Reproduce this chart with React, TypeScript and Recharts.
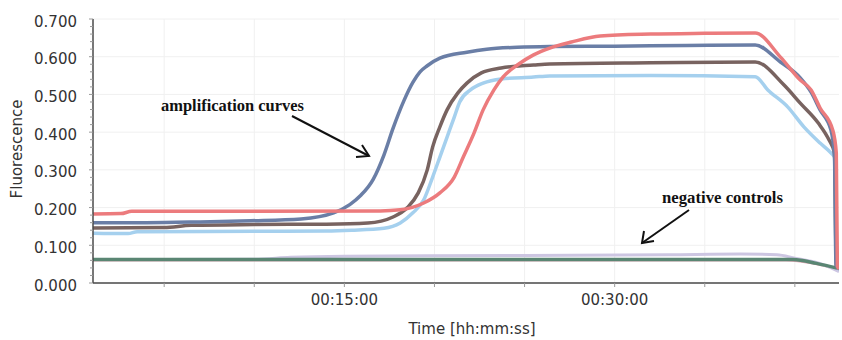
import React from "react";
import { LineChart, Line, XAxis, YAxis, CartesianGrid } from "recharts";

// time in minutes, fluorescence values
const blueT = [1.05, 4, 7, 9.8, 12.6, 14.4, 15.3, 15.9, 16.6, 17.2, 17.7, 18.3, 18.8, 19.2, 19.6, 20.3, 21.8, 22.9, 24.6, 26.4, 30, 34, 37.8, 39.2, 40.3, 40.9, 41.4, 42.0, 42.2, 42.28, 42.45];
const blueV = [0.160, 0.160, 0.162, 0.165, 0.170, 0.186, 0.208, 0.232, 0.275, 0.340, 0.410, 0.483, 0.532, 0.560, 0.576, 0.596, 0.612, 0.620, 0.625, 0.627, 0.628, 0.630, 0.631, 0.586, 0.544, 0.506, 0.459, 0.406, 0.334, 0.048, 0.040];

const redT = [1.05, 2.6, 3.2, 10, 17, 18.1, 19.4, 20.3, 21.1, 21.6, 22.2, 22.7, 23.3, 23.8, 24.6, 25.5, 26.4, 27.6, 29.2, 32, 35, 37.8, 39.2, 40.3, 40.9, 41.4, 42.1, 42.3, 42.36, 42.45];
const redV = [0.183, 0.184, 0.190, 0.190, 0.191, 0.194, 0.212, 0.239, 0.281, 0.334, 0.398, 0.459, 0.512, 0.546, 0.578, 0.605, 0.623, 0.639, 0.655, 0.660, 0.662, 0.663, 0.599, 0.538, 0.512, 0.464, 0.406, 0.345, 0.045, 0.038];

const brownT = [1.05, 5, 6.5, 10, 14, 16.3, 17.7, 18.5, 19.1, 19.6, 19.9, 20.3, 20.7, 21.3, 21.8, 22.6, 23.7, 25.5, 26.4, 32, 37.8, 39.4, 40.3, 41.3, 41.9, 42.2, 42.3, 42.45];
const brownV = [0.146, 0.147, 0.153, 0.155, 0.156, 0.159, 0.175, 0.200, 0.239, 0.300, 0.361, 0.414, 0.459, 0.504, 0.530, 0.557, 0.570, 0.578, 0.581, 0.584, 0.586, 0.525, 0.477, 0.424, 0.379, 0.345, 0.045, 0.038];

const lightT = [1.05, 3, 3.5, 10, 14, 15.4, 17.2, 18.1, 18.8, 19.4, 19.9, 20.3, 20.7, 21.1, 21.4, 22, 22.7, 23.7, 25.5, 26.4, 32, 37.8, 38.5, 39.6, 40.5, 41.4, 42.0, 42.25, 42.32, 42.45];
const lightV = [0.132, 0.131, 0.136, 0.137, 0.138, 0.140, 0.145, 0.159, 0.186, 0.220, 0.281, 0.334, 0.387, 0.440, 0.480, 0.512, 0.530, 0.541, 0.546, 0.549, 0.550, 0.547, 0.512, 0.467, 0.414, 0.371, 0.345, 0.330, 0.045, 0.036];

const greenT = [1.05, 20, 39.9, 41.2, 42.45];
const greenV = [0.062, 0.062, 0.062, 0.052, 0.038];

const lavenderT = [1.05, 10, 12, 15, 25, 33, 37, 39, 40, 41.5, 42.45];
const lavenderV = [0.062, 0.063, 0.068, 0.071, 0.073, 0.075, 0.077, 0.075, 0.066, 0.050, 0.030];

const pinkT = [1.05, 39.5, 41, 42.45];
const pinkV = [0.060, 0.060, 0.052, 0.035];

const xTicks = [5, 10, 15, 20, 25, 30, 35, 40];
const xTickLabels: Record<number, string> = { 15: "00:15:00", 30: "00:30:00" };
const yMajor = [0, 0.1, 0.2, 0.3, 0.4, 0.5, 0.6, 0.7];
const yTicks = [
  0, 0.02, 0.04, 0.06, 0.08, 0.1, 0.12, 0.14, 0.16, 0.18, 0.2, 0.22, 0.24, 0.26, 0.28,
  0.3, 0.32, 0.34, 0.36, 0.38, 0.4, 0.42, 0.44, 0.46, 0.48, 0.5, 0.52, 0.54, 0.56, 0.58,
  0.6, 0.62, 0.64, 0.66, 0.68, 0.7,
];

const toPts = (t: number[], v: number[]) => t.map((x, i) => ({ t: x, v: v[i] }));

const series = [
  { name: "neg-pink", data: toPts(pinkT, pinkV), color: "#e3a6b4", w: 2.5 },
  { name: "neg-lavender", data: toPts(lavenderT, lavenderV), color: "#cdc6e2", w: 3 },
  { name: "neg-green", data: toPts(greenT, greenV), color: "#5a8673", w: 3.5 },
  { name: "light", data: toPts(lightT, lightV), color: "#a5d0ee", w: 3.5 },
  { name: "brown", data: toPts(brownT, brownV), color: "#786360", w: 3.5 },
  { name: "blue", data: toPts(blueT, blueV), color: "#6a7ea6", w: 3.5 },
  { name: "red", data: toPts(redT, redV), color: "#ec7b7d", w: 3.5 },
];

const FONT = "'DejaVu Sans', Verdana, sans-serif";
const SERIF = "'Liberation Serif', 'Times New Roman', serif";

const YTick = (props: any) => {
  const { x, y, payload } = props;
  const val = payload.value as number;
  const isMajor = yMajor.some((m) => Math.abs(m - val) < 1e-6);
  return (
    <g>
      <line x1={x - (isMajor ? 4 : 3)} x2={x} y1={y} y2={y} stroke="#999" strokeWidth={1} />
      {isMajor && (
        <text x={x - 16} y={y + 3} textAnchor="end" dominantBaseline="middle" fontFamily={FONT} fontSize={15} fill="#333">
          {val.toFixed(3)}
        </text>
      )}
    </g>
  );
};

export default function App() {
  return (
    <div style={{ position: "absolute", left: 0, top: 0, width: 842, height: 340, background: "#fff" }}>
      <LineChart width={842} height={340} margin={{ top: 19, right: 3, bottom: 0, left: 0 }}>
        <CartesianGrid stroke="#f0f0f0" strokeWidth={1} horizontalValues={yMajor} verticalValues={xTicks} />
        <XAxis
          type="number"
          dataKey="t"
          domain={[1.05, 42.45]}
          allowDataOverflow
          ticks={xTicks}
          tickFormatter={(v: number) => xTickLabels[v] ?? ""}
          height={57}
          tickSize={4}
          tickMargin={7}
          axisLine={{ stroke: "#4a4a4a", strokeWidth: 1.5 }}
          tickLine={{ stroke: "#999" }}
          tick={{ fontFamily: FONT, fontSize: 15, fill: "#333" }}
        />
        <YAxis
          type="number"
          domain={[0, 0.7]}
          ticks={yTicks}
          interval={0}
          width={93}
          tickSize={0}
          tickMargin={0}
          tickLine={false}
          axisLine={{ stroke: "#4a4a4a", strokeWidth: 1.5 }}
          tick={<YTick />}
        />
        {series.map((s) => (
          <Line
            key={s.name}
            data={s.data}
            dataKey="v"
            type="monotone"
            stroke={s.color}
            strokeWidth={s.w}
            dot={false}
            activeDot={false}
            isAnimationActive={false}
          />
        ))}
      </LineChart>
      <svg width={842} height={340} style={{ position: "absolute", left: 0, top: 0, pointerEvents: "none" }}>
        <text x={17} y={149} transform="rotate(-90 17 149)" textAnchor="middle" dominantBaseline="middle" fontFamily={FONT} fontSize={15} fill="#333">
          Fluorescence
        </text>
        <text x={472} y={329} textAnchor="middle" dominantBaseline="middle" fontFamily={FONT} fontSize={15} fill="#333">
          Time [hh:mm:ss]
        </text>
        <text x={161} y={111} textLength={143} lengthAdjust="spacingAndGlyphs" fontFamily={SERIF} fontWeight="bold" fontSize={16.5} fill="#111">
          amplification curves
        </text>
        <line x1={292} y1={116} x2={369} y2={156} stroke="#111" strokeWidth={2} />
        <polyline points="356,157 369,156 362,145" fill="none" stroke="#111" strokeWidth={2} />
        <text x={662} y={203} textLength={121} lengthAdjust="spacingAndGlyphs" fontFamily={SERIF} fontWeight="bold" fontSize={16.5} fill="#111">
          negative controls
        </text>
        <line x1={689} y1={210} x2={642} y2={243} stroke="#111" strokeWidth={2} />
        <polyline points="644,231 642,243 654,241" fill="none" stroke="#111" strokeWidth={2} />
      </svg>
    </div>
  );
}
